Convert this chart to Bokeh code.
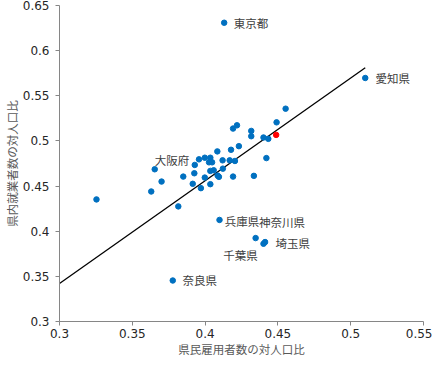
from bokeh.plotting import figure
from bokeh.models import Range1d, FixedTicker, ColumnDataSource
from bokeh.core.properties import value
from bokeh.embed import file_html
from bokeh.resources import INLINE

# data
x_vals = [0.4131, 0.5100, 0.4553, 0.4491, 0.4219, 0.4192, 0.4317, 0.4317,
          0.4401, 0.4434, 0.4232, 0.4178, 0.4084, 0.4421, 0.3958, 0.3998,
          0.4036, 0.3929, 0.4027, 0.4048, 0.4120, 0.4169, 0.4205, 0.3654,
          0.4036, 0.4059, 0.4122, 0.3850, 0.3926, 0.3998, 0.4086, 0.4095,
          0.4192, 0.4335, 0.3915, 0.3971, 0.4036, 0.3701, 0.3630, 0.3254,
          0.3816, 0.4099, 0.4347, 0.4401, 0.4412, 0.3778]
y_vals = [0.6309, 0.5697, 0.5357, 0.5206, 0.5173, 0.5137, 0.5111, 0.5052,
          0.5038, 0.5023, 0.4942, 0.4902, 0.4884, 0.4810, 0.4796, 0.4814,
          0.4814, 0.4734, 0.4763, 0.4763, 0.4785, 0.4785, 0.4778, 0.4686,
          0.4668, 0.4675, 0.4693, 0.4605, 0.4642, 0.4594, 0.4616, 0.4602,
          0.4605, 0.4613, 0.4525, 0.4477, 0.4521, 0.4550, 0.4440, 0.4352,
          0.4275, 0.4125, 0.3924, 0.3861, 0.3880, 0.3454]
hl_x = [0.4488]
hl_y = [0.5067]
trend_x = [0.30, 0.51]
trend_y = [0.342, 0.581]

labels = ["東京都", "愛知県", "大阪府", "兵庫県", "神奈川県", "埼玉県", "千葉県", "奈良県"]
label_x = [0.4196, 0.5170, 0.3654, 0.4135, 0.4371, 0.4484, 0.4124, 0.3845]
label_y = [0.6310, 0.5700, 0.4785, 0.4110, 0.4103, 0.3865, 0.3740, 0.3455]

x_ticks = [0.3, 0.35, 0.4, 0.45, 0.5, 0.55]
y_ticks = [0.3, 0.35, 0.4, 0.45, 0.5, 0.55, 0.6, 0.65]
x_title = "県民雇用者数の対人口比"
y_title = "県内就業者数の対人口比"

p = figure(width=432, height=359, output_backend="svg", toolbar_location=None,
           x_range=Range1d(0.3, 0.55), y_range=Range1d(0.3, 0.65),
           min_border_left=50, min_border_right=9, min_border_top=5,
           min_border_bottom=34)
p.outline_line_color = None
p.grid.visible = False

p.line(trend_x, trend_y, line_color="black", line_width=1.3)
p.scatter(x_vals, y_vals, size=5.5, fill_color="#0070C0", line_color="#0070C0")
p.scatter(hl_x, hl_y, size=5.5, fill_color="#FF0000", line_color="#FF0000")

src = ColumnDataSource(dict(x=label_x, y=label_y, t=labels))
p.text(x="x", y="y", text="t", source=src, text_font=value("Noto Sans CJK JP"),
       text_font_size="11.5px", text_color="#404040", text_align="left",
       text_baseline="middle")

for ax in (p.xaxis[0], p.yaxis[0]):
    ax.axis_line_color = "#868686"
    ax.major_tick_line_color = "#868686"
    ax.minor_tick_line_color = None
    ax.major_tick_in = 0
    ax.major_tick_out = 4
    ax.major_label_text_font = "DejaVu Sans"
    ax.major_label_text_font_size = "12px"
    ax.major_label_text_color = "#262626"
    ax.axis_label_text_font = "Noto Sans CJK JP"
    ax.axis_label_text_font_size = "11.5px"
    ax.axis_label_text_font_style = "normal"
    ax.axis_label_text_color = "#595959"

p.xaxis.ticker = FixedTicker(ticks=x_ticks)
p.yaxis.ticker = FixedTicker(ticks=y_ticks)
p.xaxis.major_label_overrides = {t: f"{t:g}" for t in x_ticks}
p.yaxis.major_label_overrides = {t: f"{t:g}" for t in y_ticks}
p.xaxis.axis_label = x_title
p.yaxis.axis_label = y_title
p.xaxis.major_label_standoff = 3
p.xaxis.axis_label_standoff = 0
p.yaxis.major_label_standoff = 6
p.yaxis.axis_label_standoff = 0

open("out.html", "w").write(file_html(p, INLINE))
